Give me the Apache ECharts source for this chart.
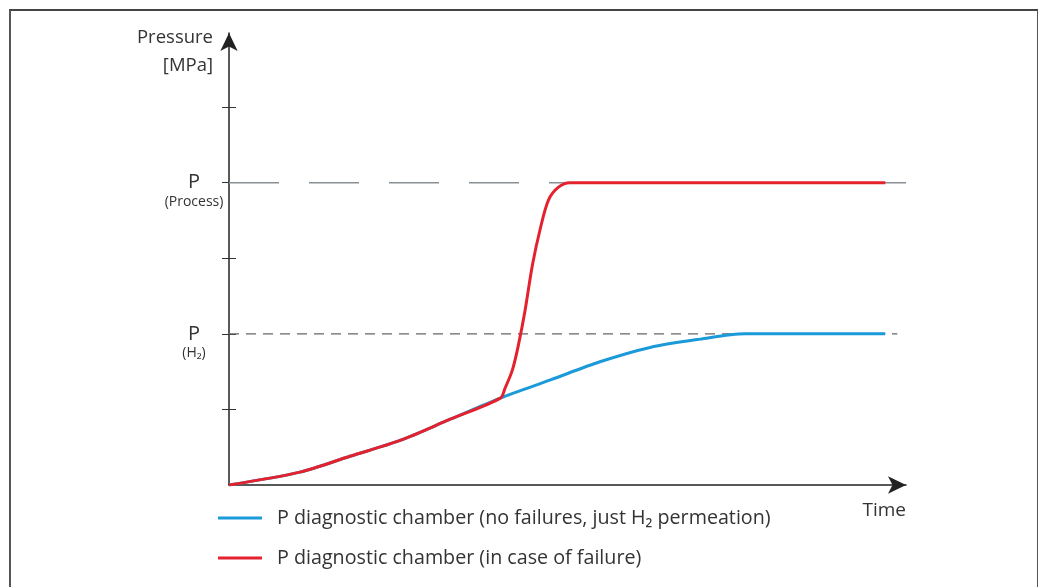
<!DOCTYPE html>
<html>
<head>
<meta charset="utf-8">
<script src="https://cdn.jsdelivr.net/npm/echarts@6/dist/echarts.min.js"></script>
<style>
  html, body { margin: 0; padding: 0; background: #fff; }
  #main { position: absolute; left: 0; top: 0; width: 1038px; height: 587px; }
  .frame {
    position: absolute; left: 9px; top: 9px; width: 1026px; height: 590px;
    border-left: 2px solid #555; border-top: 2px solid #444; border-right: 2px solid #555;
    pointer-events: none;
  }
</style>
</head>
<body>
<div id="main"></div>
<div class="frame"></div>
<script>
// time axis runs 0..101.3, pressure in tick units (P(H2) = 2, P(Process) = 4)
var noFailTime = [0, 10.6, 18.1, 25.6, 33.1, 40.6, 48.1, 55.5, 63.0, 70.5, 77.2, 98.2]
var noFailPress = [0, 0.17, 0.38, 0.59, 0.87, 1.15, 1.39, 1.63, 1.82, 1.93, 2.0, 2.0]
var failTime = [0, 10.6, 18.1, 25.6, 33.1, 40.6, 41.3, 42.4, 43.3, 44.3, 45.4, 46.6, 47.8, 49.3, 51.0, 98.2]
var failPress = [0, 0.17, 0.38, 0.59, 0.87, 1.15, 1.28, 1.52, 1.85, 2.31, 2.91, 3.40, 3.77, 3.94, 4.0, 4.0]
var levelH2 = 2
var levelProcess = 4
var yTicks = [1, 2, 3, 4, 5]
var seriesNames = ['P diagnostic chamber (no failures, just H\u2082 permeation)', 'P diagnostic chamber (in case of failure)']

function pairs (xs, ys) {
  return xs.map(function (x, i) { return [x, ys[i]] })
}

var font = 'Open Sans'
var xMax = 101.3
var yMax = 5.98
var myChart = echarts.init(document.getElementById('main'))
myChart.setOption({
  backgroundColor: '#fff',
  animation: false,
  textStyle: { fontFamily: font, color: '#333' },
  grid: { left: 229, right: 132, top: 33, bottom: 102 },
  legend: {
    data: seriesNames,
    orient: 'vertical',
    left: 218,
    top: 508,
    padding: 0,
    icon: 'rect',
    itemWidth: 44,
    itemHeight: 3,
    itemGap: 20,
    textStyle: { fontFamily: font, fontSize: 19.7, color: '#333', lineHeight: 20, padding: [0, 0, 0, 10] }
  },
  xAxis: {
    type: 'value',
    min: 0,
    max: xMax,
    name: 'Time',
    nameLocation: 'end',
    nameGap: 0,
    nameTextStyle: { fontFamily: font, fontSize: 19, color: '#333', align: 'right', verticalAlign: 'top', padding: [16, 0, 0, 0] },
    axisLine: { show: true, symbol: ['none', 'arrow'], symbolSize: [13, 18], lineStyle: { color: '#222', width: 1.5 } },
    axisTick: { show: false },
    axisLabel: { show: false },
    splitLine: { show: false }
  },
  yAxis: [{
    type: 'value',
    min: 0,
    max: yMax,
    name: 'Pressure\n[MPa]',
    nameLocation: 'end',
    nameGap: 9,
    nameTextStyle: { fontFamily: font, fontSize: 18.5, color: '#333', align: 'right', verticalAlign: 'top', lineHeight: 28, padding: [0, 16, 0, 0] },
    axisLine: { show: true, symbol: ['none', 'arrow'], symbolSize: [13, 18], lineStyle: { color: '#222', width: 1.5 } },
    axisTick: { show: true, customValues: yTicks, length: 7, lineStyle: { color: '#333', width: 1 } },
    axisLabel: {
      show: true,
      customValues: [levelH2, levelProcess],
      margin: 35,
      align: 'center',
      formatter: function (v) {
        var sub = v === levelProcess ? '(Process)' : '(H\u2082)'
        return '{e| }\n{p|P}\n{s|' + sub + '}'
      },
      rich: {
        e: { fontSize: 14, lineHeight: 18 },
        p: { fontFamily: font, fontSize: 20, lineHeight: 20, color: '#333' },
        s: { fontFamily: font, fontSize: 14, lineHeight: 18, color: '#333' }
      }
    },
    splitLine: { show: false }
  }, {
    type: 'value',
    min: 0,
    max: yMax,
    position: 'left',
    axisLine: { show: false },
    axisTick: { show: true, inside: true, customValues: yTicks, length: 7, lineStyle: { color: '#333', width: 1 } },
    axisLabel: { show: false },
    splitLine: { show: false }
  }],
  series: [
    {
      type: 'line',
      silent: true,
      symbol: 'none',
      z: 1,
      lineStyle: { color: '#8a8f93', width: 1.5, type: [50, 30] },
      data: [[0, levelProcess], [xMax, levelProcess]]
    },
    {
      type: 'line',
      silent: true,
      symbol: 'none',
      z: 1,
      lineStyle: { color: '#666', width: 1.2, type: [10, 7] },
      data: [[0, levelH2], [100, levelH2]]
    },
    {
      name: seriesNames[0],
      type: 'line',
      symbol: 'none',
      smooth: 0.3,
      color: '#1a9ad9',
      z: 3,
      lineStyle: { width: 3, color: '#1a9ad9' },
      data: pairs(noFailTime, noFailPress)
    },
    {
      name: seriesNames[1],
      type: 'line',
      symbol: 'none',
      smooth: 0.3,
      color: '#e4222e',
      z: 4,
      lineStyle: { width: 3, color: '#e4222e' },
      data: pairs(failTime, failPress)
    }
  ]
})
window.onresize = myChart.resize
</script>
</body>
</html>
